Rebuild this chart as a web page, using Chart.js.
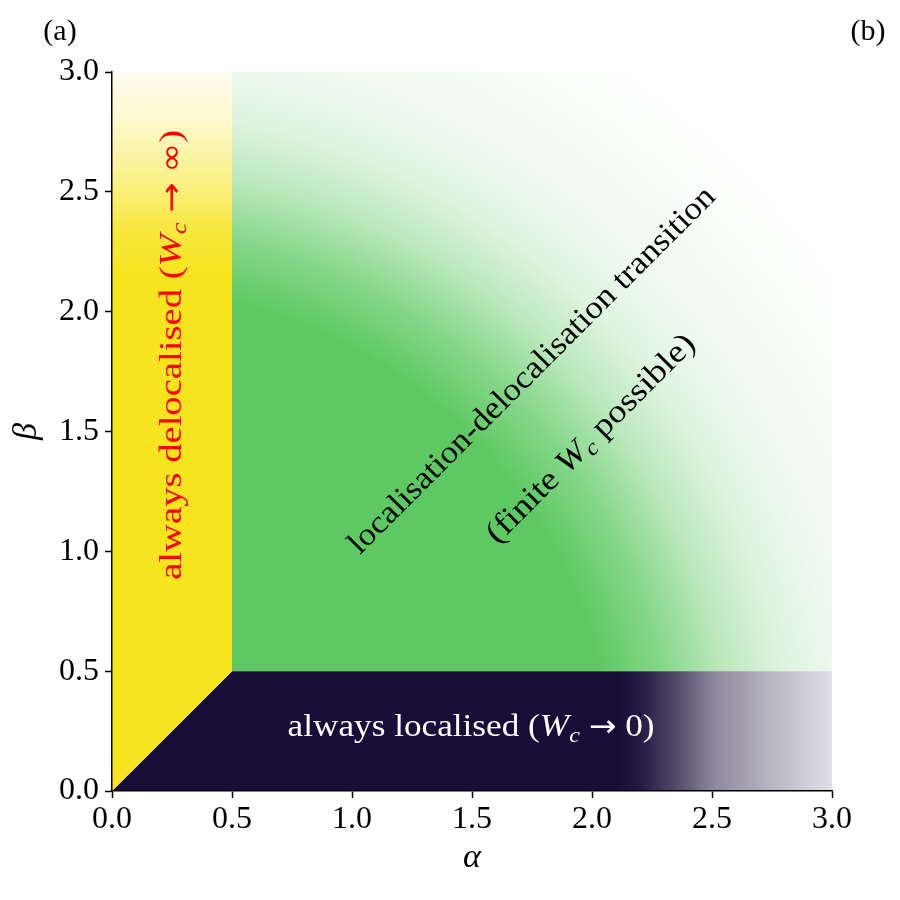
<!DOCTYPE html>
<html>
<head>
<meta charset="utf-8">
<title>Localisation phase diagram</title>
<script src="https://cdn.jsdelivr.net/npm/chart.js"></script>
<style>
  html, body { margin: 0; padding: 0; background: #fff; }
  canvas { display: block; }
</style>
</head>
<body>
<canvas id="phaseChart" width="900" height="900"></canvas>
<script>
// tick positions on both axes
const tickValues = [0, 0.5, 1, 1.5, 2, 2.5, 3];

// region outlines in (alpha, beta)
const delocalisedAlpha = [0, 0, 0.5, 0.5];
const delocalisedBeta = [0, 3, 3, 0.5];
const localisedAlpha = [0, 0.5, 3, 3];
const localisedBeta = [0, 0.5, 0.5, 0];
const transitionAlpha = [0.5, 0.5, 3, 3];
const transitionBeta = [0.5, 3, 3, 0.5];

// fade-outs: [coordinate, opacity]
const yellowFade = [[2.15, 1], [2.35, 0.85], [2.5, 0.6], [2.65, 0.4], [2.8, 0.22], [3.0, 0.06]];
const purpleFade = [[2.1, 1], [2.2, 0.95], [2.35, 0.75], [2.5, 0.5], [2.75, 0.3], [3.0, 0.13]];
// green fades with distance from the origin
const greenFade = [[0, 1], [2.1, 1], [2.35, 0.75], [2.6, 0.42], [2.85, 0.2], [3.1, 0.1], [3.45, 0.03], [3.85, 0]];

const YELLOW = '246,228,30';
const PURPLE = '24,13,56';
const GREEN = '94,201,98';
const SERIF = "'Liberation Serif', 'DejaVu Serif', serif";
const SYMBOL = "'DejaVu Sans', sans-serif";

function toPoints(xs, ys) {
  return xs.map((x, i) => ({ x: x, y: ys[i] }));
}

function linearFade(chart, axis, stops, rgb) {
  const { chartArea, scales, ctx } = chart;
  if (!chartArea) return 'rgba(' + rgb + ',1)';
  const s = scales[axis];
  const v0 = stops[0][0], v1 = stops[stops.length - 1][0];
  const p0 = s.getPixelForValue(v0), p1 = s.getPixelForValue(v1);
  const g = axis === 'x' ? ctx.createLinearGradient(p0, 0, p1, 0) : ctx.createLinearGradient(0, p0, 0, p1);
  stops.forEach(([v, a]) => g.addColorStop((v - v0) / (v1 - v0), 'rgba(' + rgb + ',' + a + ')'));
  return g;
}

function radialFade(chart, stops, rgb) {
  const { chartArea, scales, ctx } = chart;
  if (!chartArea) return 'rgba(' + rgb + ',1)';
  const cx = scales.x.getPixelForValue(0);
  const cy = scales.y.getPixelForValue(0);
  const rMax = stops[stops.length - 1][0];
  const R = scales.x.getPixelForValue(rMax) - cx;
  const g = ctx.createRadialGradient(cx, cy, 0, cx, cy, R);
  stops.forEach(([r, a]) => g.addColorStop(r / rMax, 'rgba(' + rgb + ',' + a + ')'));
  return g;
}

// text inside the diagram, placed in data coordinates
const phaseLabels = [
  { alpha: 0.25, beta: 1.82, angle: -90, width: 450, color: '#ff0000',
    parts: [['always delocalised (', 'r'], ['W', 'i'], ['c', 's'], [' ', 'r'], ['\u2192', 'm'], [' ', 'r'], ['\u221e', 'm'], [')', 'r']] },
  { alpha: 1.75, beta: 1.755, angle: -45, width: 505, color: '#000000',
    parts: [['localisation-delocalisation transition', 'r']] },
  { alpha: 1.995, beta: 1.47, angle: -45, width: 282, color: '#000000',
    parts: [['(finite ', 'r'], ['W', 'i'], ['c', 's'], [' possible)', 'r']] },
  { alpha: 1.496, beta: 0.265, angle: 0, width: 367, color: '#ffffff',
    parts: [['always localised (', 'r'], ['W', 'i'], ['c', 's'], [' ', 'r'], ['\u2192', 'm'], [' 0)', 'r']] }
];

function fontFor(kind, size) {
  if (kind === 'i') return 'italic ' + size + 'px ' + SERIF;
  if (kind === 's') return 'italic ' + Math.round(size * 0.7) + 'px ' + SERIF;
  if (kind === 'm') return Math.round(size * 0.95) + 'px ' + SYMBOL;
  return size + 'px ' + SERIF;
}

function drawRich(ctx, label, x, y, size) {
  ctx.save();
  ctx.translate(x, y);
  ctx.rotate(label.angle * Math.PI / 180);
  ctx.fillStyle = label.color;
  ctx.textAlign = 'left';
  ctx.textBaseline = 'alphabetic';
  let total = 0;
  const widths = label.parts.map(([t, k]) => {
    ctx.font = fontFor(k, size);
    const w = ctx.measureText(t).width;
    total += w;
    return w;
  });
  const stretch = label.width / total;
  ctx.scale(stretch, 1);
  let cx = -total / 2;
  label.parts.forEach(([t, k], i) => {
    ctx.font = fontFor(k, size);
    ctx.fillText(t, cx, size * 0.28 + (k === 's' ? size * 0.16 : 0));
    cx += widths[i];
  });
  ctx.restore();
}

const labelPlugin = {
  id: 'phaseLabels',
  afterDatasetsDraw(chart) {
    const { ctx, scales } = chart;
    phaseLabels.forEach(l => {
      drawRich(ctx, l, scales.x.getPixelForValue(l.alpha), scales.y.getPixelForValue(l.beta), 32);
    });
    // panel letters
    ctx.save();
    ctx.fillStyle = '#000';
    ctx.font = '30px ' + SERIF;
    ctx.textBaseline = 'middle';
    ctx.textAlign = 'center';
    ctx.fillText('(a)', 60, 32);
    ctx.fillText('(b)', 868, 32);
    ctx.restore();
  }
};

function axisOptions(titleText, titlePad, size) {
  return {
    type: 'linear',
    min: 0,
    max: 3,
    afterBuildTicks: s => { s.ticks = tickValues.map(v => ({ value: v })); },
    ticks: {
      font: { family: SERIF, size: 32 },
      color: '#000',
      padding: 3,
      autoSkip: false,
      maxRotation: 0,
      z: 1,
      callback: v => Number(v).toFixed(1)
    },
    grid: { drawOnChartArea: false, drawTicks: true, tickLength: 7, tickWidth: 1.5, tickColor: '#000' },
    border: { display: true, color: '#000', width: 1.5, z: 1 },
    title: {
      display: true,
      text: titleText,
      color: '#000',
      font: { family: SERIF, size: 34, style: 'italic' },
      padding: titlePad
    },
    afterFit: size
  };
}

const xAxis = axisOptions('\u03b1', 22, s => { s.height = 109; });
xAxis.ticks.padding = 2;
const yAxis = axisOptions('\u03b2', 7, s => { s.width = 112; });
yAxis.ticks.padding = 6;

new Chart(document.getElementById('phaseChart'), {
  type: 'scatter',
  data: {
    datasets: [
      {
        label: 'always delocalised',
        data: toPoints(delocalisedAlpha, delocalisedBeta),
        backgroundColor: c => linearFade(c.chart, 'y', yellowFade, YELLOW)
      },
      {
        label: 'always localised',
        data: toPoints(localisedAlpha, localisedBeta),
        backgroundColor: c => linearFade(c.chart, 'x', purpleFade, PURPLE)
      },
      {
        label: 'transition',
        data: toPoints(transitionAlpha, transitionBeta),
        backgroundColor: c => radialFade(c.chart, greenFade, GREEN)
      }
    ].map(d => Object.assign(d, {
      showLine: true,
      fill: 'shape',
      borderWidth: 0,
      borderColor: 'rgba(0,0,0,0)',
      pointRadius: 0,
      pointHoverRadius: 0,
      tension: 0
    }))
  },
  options: {
    responsive: false,
    animation: false,
    layout: { padding: { left: 0, top: 72, right: 68, bottom: 0 } },
    plugins: {
      legend: { display: false },
      tooltip: { enabled: false }
    },
    scales: { x: xAxis, y: yAxis }
  },
  plugins: [labelPlugin]
});
</script>
</body>
</html>
